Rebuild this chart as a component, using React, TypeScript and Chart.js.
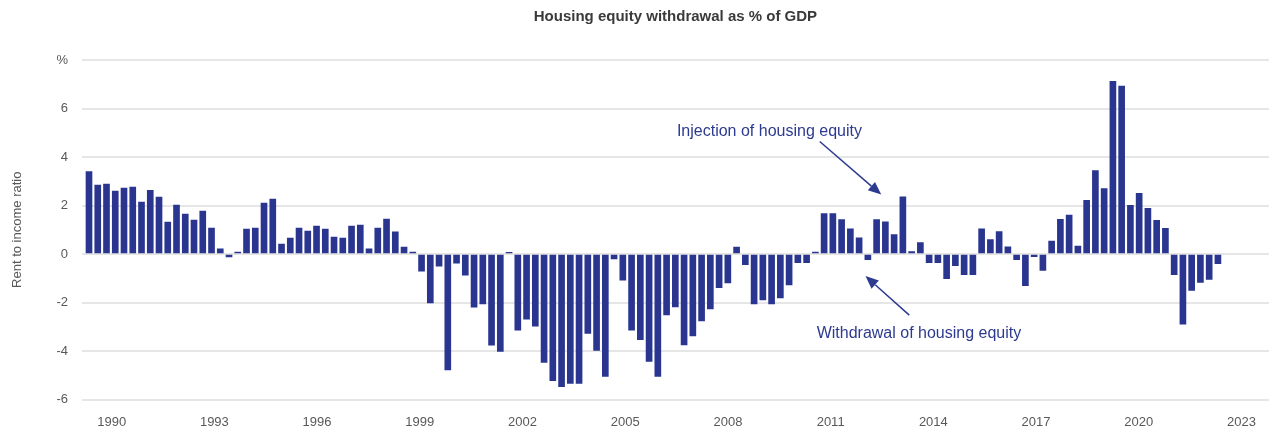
import React, { useEffect, useRef } from 'react';
import { Chart, registerables } from 'chart.js';

Chart.register(...registerables);

// Quarterly categories 1990 Q1 .. 2022 Q2
const quarters: string[] = [];
for (let yr = 1990; yr <= 2022; yr++) {
  for (let q = 1; q <= 4; q++) quarters.push(`${yr} Q${q}`);
}

// Housing equity withdrawal, % of GDP
const hewValues: number[] = [
  3.4, 2.84, 2.88, 2.59, 2.72, 2.76, 2.14, 2.63, 2.35, 1.32, 2.02, 1.65, 1.4, 1.77, 1.07, 0.21, -0.12, 0.08, 1.03, 1.07, 2.1, 2.26,
  0.41, 0.66, 1.07, 0.95, 1.15, 1.03, 0.7, 0.66, 1.15, 1.19, 0.21, 1.07, 1.44, 0.91, 0.29, 0.08,
  -0.71, -2.02, -0.5, -4.78, -0.38, -0.87, -2.19, -2.06, -3.76, -4.02, 0.07, -3.14, -2.69, -2.98, -4.47, -5.22, -5.47, -5.34, -5.34, -3.27, -3.98, -5.05, -0.2, -1.08, -3.14,
  -3.53, -4.43, -5.05, -2.51, -2.18, -3.75, -3.38, -2.76, -2.26, -1.39, -1.19, 0.29, -0.44, -2.06, -1.89, -2.06, -1.81, -1.27, -0.36, -0.36, 0.08, 1.67, 1.67, 1.42,
  1.04, 0.67, -0.23, 1.42, 1.33, 0.8, 2.36, 0.1, 0.47, -0.36, -0.36, -1.02, -0.48, -0.85, -0.85, 1.04, 0.59, 0.92, 0.3, -0.23, -1.31, -0.11,
  -0.68, 0.53, 1.43, 1.6, 0.33, 2.21, 3.44, 2.7, 7.12, 6.92, 2.01, 2.5, 1.88, 1.39, 1.06, -0.85, -2.89, -1.5, -1.17, -1.05, -0.4,
];

const categories = quarters.slice(0, hewValues.length);
const yearTickLabels: number[] = [1990, 1993, 1996, 1999, 2002, 2005, 2008, 2011, 2014, 2017, 2020, 2023];
const yTickValues: number[] = [-6, -4, -2, 0, 2, 4, 6, 8];

const TITLE = 'Housing equity withdrawal as % of GDP';
const Y_TITLE = 'Rent to income ratio';
const BAR_COLOR = '#29358f';
const ANNOT_COLOR = '#2c3a90';
const TEXT_GREY = '#595959';
const FONT = '"Liberation Sans", Arial, sans-serif';

// Annotation texts and arrows, in data coordinates (bar index, value)
const annotations = [
  { text: 'Injection of housing equity', textX: 67.18, textY: 5.05, fromX: 83.5, fromY: 4.64, toX: 90.53, toY: 2.45 },
  { text: 'Withdrawal of housing equity', textX: 83.15, textY: -3.28, fromX: 93.73, fromY: -2.52, toX: 88.73, toY: -0.91 },
];

const annotationPlugin = {
  id: 'hewAnnotations',
  afterDatasetsDraw(chart: any) {
    const { ctx } = chart;
    const xs = chart.scales.x;
    const ys = chart.scales.y;
    ctx.save();
    ctx.fillStyle = ANNOT_COLOR;
    ctx.strokeStyle = ANNOT_COLOR;
    ctx.font = `16px ${FONT}`;
    ctx.textBaseline = 'middle';
    ctx.textAlign = 'left';
    for (const a of annotations) {
      ctx.fillText(a.text, xs.getPixelForValue(a.textX), ys.getPixelForValue(a.textY));
      const x0 = xs.getPixelForValue(a.fromX);
      const y0 = ys.getPixelForValue(a.fromY);
      const x1 = xs.getPixelForValue(a.toX);
      const y1 = ys.getPixelForValue(a.toY);
      const ang = Math.atan2(y1 - y0, x1 - x0);
      const cos = Math.cos(ang);
      const sin = Math.sin(ang);
      const head = 13;
      const hw = 5.5;
      const bx = x1 - head * cos;
      const by = y1 - head * sin;
      ctx.lineWidth = 1.5;
      ctx.beginPath();
      ctx.moveTo(x0, y0);
      ctx.lineTo(bx, by);
      ctx.stroke();
      ctx.beginPath();
      ctx.moveTo(x1, y1);
      ctx.lineTo(bx + hw * sin, by - hw * cos);
      ctx.lineTo(bx - hw * sin, by + hw * cos);
      ctx.closePath();
      ctx.fill();
    }
    ctx.restore();
  },
};

export default function App() {
  const canvasRef = useRef<HTMLCanvasElement | null>(null);

  useEffect(() => {
    if (!canvasRef.current) return;
    const chart = new Chart(canvasRef.current, {
      type: 'bar',
      data: {
        labels: categories,
        datasets: [
          {
            label: 'Housing equity withdrawal',
            data: hewValues.map((v, i) => ({ x: i, y: v })),
            backgroundColor: BAR_COLOR,
            borderWidth: 0,
            barThickness: 6,
            xAxisID: 'x',
            yAxisID: 'y',
          },
        ],
      },
      options: {
        animation: false,
        responsive: true,
        maintainAspectRatio: false,
        layout: { padding: { left: 0, right: 0, top: 0, bottom: 0 } },
        plugins: {
          legend: { display: false },
          tooltip: { enabled: false },
          title: {
            display: true,
            text: TITLE,
            fullSize: false,
            color: '#3a3a3a',
            font: { family: FONT, size: 15, weight: 'bold' },
            padding: { top: 0, bottom: 34 },
          },
        },
        scales: {
          x: {
            type: 'linear',
            display: false,
            min: -0.8,
            max: 134.82,
            offset: false,
            grid: { offset: false },
          },
          x2: {
            type: 'linear',
            position: 'bottom',
            min: 1989.134,
            max: 2023.799,
            offset: false,
            grid: { display: false, drawTicks: false, offset: false },
            border: { display: false },
            afterBuildTicks: (scale: any) => {
              scale.ticks = yearTickLabels.map((v) => ({ value: v }));
            },
            afterFit: (scale: any) => {
              scale.height = 32.5;
            },
            ticks: {
              color: TEXT_GREY,
              font: { family: FONT, size: 13 },
              padding: 15,
              maxRotation: 0,
              autoSkip: false,
              callback: (v: any) => String(v),
            },
          },
          y: {
            type: 'linear',
            min: -6,
            max: 8,
            afterBuildTicks: (scale: any) => {
              scale.ticks = yTickValues.map((v) => ({ value: v }));
            },
            afterFit: (scale: any) => {
              scale.width = 74;
            },
            grid: { color: '#e6e6e6', lineWidth: 2, drawTicks: false },
            border: { display: false },
            ticks: {
              color: TEXT_GREY,
              font: { family: FONT, size: 13 },
              padding: 14,
              callback: (v: any) => (v === 8 ? '%' : String(v)),
            },
            title: {
              display: true,
              text: Y_TITLE,
              color: TEXT_GREY,
              font: { family: FONT, size: 13 },
              padding: { top: 2, bottom: 0 },
            },
          },
        },
      },
      plugins: [annotationPlugin],
    });
    return () => chart.destroy();
  }, []);

  return (
    <div style={{ width: '1263px', height: '424px', position: 'relative' }}>
      <canvas ref={canvasRef} />
    </div>
  );
}
